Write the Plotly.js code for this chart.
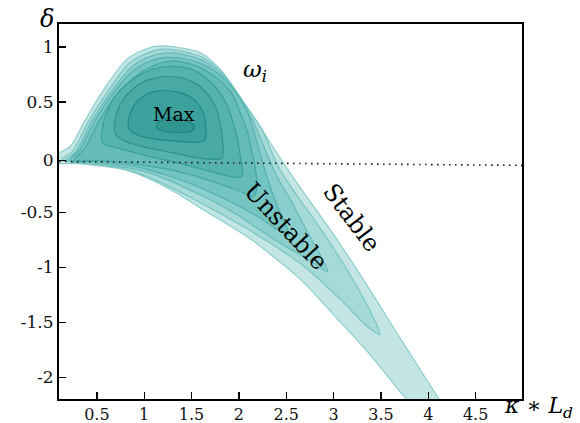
<!DOCTYPE html>
<html>
<head>
<meta charset="utf-8">
<script src="https://cdn.plot.ly/plotly-3.0.1.min.js"></script>
<style>html,body{margin:0;padding:0;background:#fff;}#chart{width:580px;height:423px;}</style>
</head>
<body>
<div id="chart"></div>
<script>
// Contour levels of omega_i, outermost (level 1) to innermost (level 9)
const L1x = [0.10,0.22,0.36,0.57,0.82,1.01,1.17,1.33,1.46,1.59,1.80,2.01,2.22,2.46,2.65,2.99,3.35,3.70,4.13,4.335,4.02,3.79,3.39,3.03,2.65,2.33,2.15,1.88,1.59,1.35,1.06,0.82,0.54,0.32,0.10];
const L1y = [0.04,0.10,0.31,0.61,0.89,0.98,1.01,1.00,0.98,0.95,0.80,0.55,0.28,-0.04,-0.28,-0.69,-1.16,-1.64,-2.22,-2.49,-2.43,-2.22,-1.80,-1.46,-1.11,-0.88,-0.76,-0.61,-0.46,-0.33,-0.20,-0.12,-0.08,-0.06,-0.06];

const L2x = [0.13,0.24,0.41,0.61,0.84,1.02,1.19,1.35,1.485,1.63,1.83,2.03,2.245,2.35,2.445,2.59,2.91,3.23,3.41,3.49,3.36,3.07,2.70,2.33,2.065,1.80,1.54,1.27,1.01,0.75,0.48,0.27,0.13];
const L2y = [-0.02,0.05,0.32,0.59,0.85,0.94,0.98,0.97,0.945,0.90,0.76,0.52,0.25,0.04,-0.13,-0.32,-0.71,-1.15,-1.44,-1.61,-1.54,-1.29,-1.00,-0.78,-0.64,-0.51,-0.39,-0.27,-0.17,-0.10,-0.07,-0.05,-0.02];

const L3x = [0.18,0.28,0.45,0.65,0.87,1.05,1.21,1.37,1.51,1.66,1.865,2.055,2.18,2.29,2.41,2.56,2.73,2.86,2.94,2.84,2.65,2.435,2.22,2.01,1.75,1.485,1.22,0.96,0.69,0.43,0.18];
const L3y = [-0.03,0.05,0.33,0.59,0.82,0.91,0.945,0.94,0.91,0.86,0.71,0.48,0.27,0.04,-0.19,-0.41,-0.69,-0.89,-1.04,-0.99,-0.89,-0.78,-0.66,-0.54,-0.41,-0.30,-0.195,-0.12,-0.08,-0.05,-0.03];

const L4x = [0.22,0.32,0.48,0.68,0.90,1.08,1.23,1.38,1.54,1.72,1.91,2.08,2.16,2.22,2.30,2.40,2.49,2.53,2.41,2.22,2.01,1.75,1.485,1.22,0.96,0.69,0.43,0.22];
const L4y = [-0.03,0.07,0.33,0.59,0.795,0.88,0.905,0.90,0.87,0.795,0.65,0.43,0.23,0.04,-0.19,-0.43,-0.61,-0.71,-0.66,-0.55,-0.45,-0.34,-0.24,-0.16,-0.095,-0.06,-0.04,-0.03];

const L5x = [0.26,0.38,0.525,0.725,0.95,1.125,1.27,1.42,1.57,1.75,1.93,2.01,2.09,2.14,2.18,2.19,2.15,2.01,1.75,1.485,1.22,0.96,0.69,0.43,0.26];
const L5y = [-0.03,0.09,0.33,0.58,0.76,0.84,0.87,0.86,0.82,0.73,0.57,0.41,0.23,0.04,-0.14,-0.28,-0.36,-0.31,-0.23,-0.16,-0.105,-0.07,-0.04,-0.03,-0.03];

const L6x = [2.03,1.94,1.70,1.345,0.99,0.71,0.59,0.55,0.56,0.59,0.69,0.87,1.08,1.31,1.52,1.71,1.87,1.97,2.01,2.03];
const L6y = [-0.175,-0.18,-0.13,-0.05,0.02,0.085,0.115,0.16,0.27,0.37,0.55,0.70,0.795,0.825,0.79,0.675,0.48,0.22,0.04,-0.175];

const L7x = [1.82,1.73,1.52,1.24,0.96,0.76,0.69,0.71,0.80,0.94,1.12,1.31,1.50,1.66,1.77,1.82];
const L7y = [-0.01,-0.02,0.00,0.05,0.10,0.16,0.22,0.40,0.55,0.66,0.72,0.73,0.69,0.58,0.42,-0.01];

const L8x = [1.64,1.56,1.345,1.10,0.92,0.85,0.83,0.86,0.94,1.06,1.20,1.36,1.50,1.61,1.65,1.64];
const L8y = [0.16,0.135,0.145,0.165,0.205,0.245,0.295,0.415,0.52,0.585,0.605,0.59,0.54,0.43,0.28,0.16];

const L9x = [1.13,1.17,1.26,1.38,1.50,1.53,1.485,1.345,1.20,1.13];
const L9y = [0.275,0.325,0.355,0.345,0.31,0.265,0.23,0.225,0.235,0.275];

// dotted reference line
const refX = [0.1, 4.99];
const refY = [-0.04, -0.075];

// axis ticks
const xTickVals = [0.5,1,1.5,2,2.5,3,3.5,4,4.5];
const xTickText = ['0.5','1','1.5','2','2.5','3','3.5','4','4.5'];
const yTickVals = [1,0.5,-0.03,-0.5,-1,-1.5,-2];
const yTickText = ['1','0.5','0','-0.5','-1','-1.5','-2'];

const levelsX = [L1x,L2x,L3x,L4x,L5x,L6x,L7x,L8x,L9x];
const levelsY = [L1y,L2y,L3y,L4y,L5y,L6y,L7y,L8y,L9y];
const fillColors = ['#c3e6e5','#a5dad8','#8acfcd','#74c4c1','#64bbb8','#56b2af','#49a9a5','#3ca09c','#319692'];
const lineColors = ['#8ccfcc','#79c5c2','#66bbb8','#55b1ae','#47a8a4','#3a9e9a','#2c938f','#218a86','#1b847f'];

const traces = levelsX.map((xs, i) => ({
  type: 'scatter', mode: 'lines', x: xs, y: levelsY[i],
  fill: 'toself', fillcolor: fillColors[i],
  line: {color: lineColors[i], width: 1.2, shape: 'spline', smoothing: 0.9},
  hoverinfo: 'skip', showlegend: false
}));
traces.push({
  type: 'scatter', mode: 'lines', x: refX, y: refY,
  line: {color: '#222', width: 1.6, dash: '1.6px,4.4px'},
  hoverinfo: 'skip', showlegend: false
});

const serif = 'DejaVu Serif, serif';
const layout = {
  width: 580, height: 423,
  margin: {l: 59, r: 58, t: 24, b: 24, pad: 0},
  paper_bgcolor: '#fff', plot_bgcolor: '#fff',
  showlegend: false,
  xaxis: {
    range: [0.1, 4.99], showgrid: false, zeroline: false,
    showline: true, mirror: true, linecolor: '#000', linewidth: 2,
    ticks: 'inside', ticklen: 7, tickwidth: 1.3, tickcolor: '#000',
    tickvals: xTickVals, ticktext: xTickText,
    tickfont: {family: serif, size: 16, color: '#111'}
  },
  yaxis: {
    range: [-2.197, 1.209], showgrid: false, zeroline: false,
    showline: true, mirror: true, linecolor: '#000', linewidth: 2,
    ticks: 'inside', ticklen: 7, tickwidth: 1.3, tickcolor: '#000',
    tickvals: yTickVals, ticktext: yTickText,
    tickfont: {family: serif, size: 17, color: '#111'}
  },
  annotations: [
    {text: 'Max', x: 1.316, y: 0.39, xref: 'x', yref: 'y', showarrow: false,
     font: {family: serif, size: 19, color: '#000'}},
    {text: '<i>ω</i><sub><i>i</i></sub>', x: 2.17, y: 0.78, xref: 'x', yref: 'y', showarrow: false,
     font: {family: serif, size: 23, color: '#000'}},
    {text: 'Unstable', x: 2.49, y: -0.63, xref: 'x', yref: 'y', showarrow: false, textangle: 47,
     font: {family: serif, size: 24, color: '#000'}},
    {text: 'Stable', x: 3.195, y: -0.55, xref: 'x', yref: 'y', showarrow: false, textangle: 53,
     font: {family: serif, size: 24, color: '#000'}},
    {text: '<i>δ</i>', x: -0.026, y: 1.012, xref: 'paper', yref: 'paper', showarrow: false,
     xanchor: 'center', yanchor: 'middle', font: {family: serif, size: 24, color: '#000'}},
    {text: '<i>κ</i> ∗ <i>L</i><sub><i>d</i></sub>', x: 1.114, y: -0.022, xref: 'paper', yref: 'paper', showarrow: false,
     xanchor: 'right', yanchor: 'middle', font: {family: serif, size: 22, color: '#000'}}
  ]
};

Plotly.newPlot('chart', traces, layout, {staticPlot: true, displayModeBar: false});
</script>
</body>
</html>
